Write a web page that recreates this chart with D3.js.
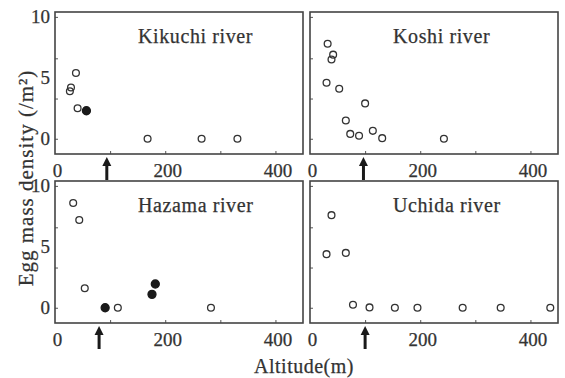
<!DOCTYPE html>
<html>
<head>
<meta charset="utf-8">
<title></title>
<style type="text/css">
  body {margin: 0; background: #fff}
  text {font-family: "Liberation Serif", "DejaVu Serif", serif; fill: #333; stroke: #333; stroke-width: 0.25px}
  .frame {fill: none; stroke: #444; stroke-width: 1.6px}
  .tick line {stroke: #555}
</style>
</head>
<body>
<script src="https://d3js.org/d3.v7.min.js"></script>
<div id="my_dataviz"></div>
<script>
// panel titles, in reading order
var rivers = ["Kikuchi river", "Koshi river", "Hazama river", "Uchida river"];

// altitude (m), egg mass density (/m2), filled = black dot
var kikuchiAlt = [27, 29, 38, 41, 57, 168, 266, 331];
var kikuchiDen = [3.9, 4.2, 5.4, 2.5, 2.3, 0, 0, 0];
var kikuchiFilled = [0, 0, 0, 0, 1, 0, 0, 0];

var koshiAlt = [32, 42, 39, 30, 53, 100, 65, 73, 89, 114, 131, 243];
var koshiDen = [7.8, 6.9, 6.5, 4.6, 4.1, 2.9, 1.5, 0.4, 0.25, 0.65, 0.05, 0];
var koshiFilled = [0, 0, 0, 0, 0, 0, 0, 0, 0, 0, 0, 0];

var hazamaAlt = [33, 44, 54, 91, 114, 176, 182, 283];
var hazamaDen = [8.6, 7.2, 1.6, 0, 0, 1.1, 1.95, 0];
var hazamaFilled = [0, 0, 0, 1, 0, 1, 1, 0];

var uchidaAlt = [39, 30, 65, 78, 108, 154, 195, 277, 346, 436];
var uchidaDen = [7.6, 4.4, 4.5, 0.25, 0.03, 0, 0, 0, 0, 0];
var uchidaFilled = [0, 0, 0, 0, 0, 0, 0, 0, 0, 0];

// arrow positions (altitude) under each panel
var arrowAlt = [94, 97, 80, 100];

var xLabels = [0, 200, 400];
var xMarks = [100, 200, 300, 400];
var yLabels = [0, 5, 10];
var yMarks = [0, 3.3, 6.6, 10];

var series = [
  {alt: kikuchiAlt, den: kikuchiDen, filled: kikuchiFilled},
  {alt: koshiAlt, den: koshiDen, filled: koshiFilled},
  {alt: hazamaAlt, den: hazamaDen, filled: hazamaFilled},
  {alt: uchidaAlt, den: uchidaDen, filled: uchidaFilled}
];

var W = 565, H = 378;
var panelLeft = [55, 310], panelTop = [12, 181];
var pw = 248, ph = 142;

var svg = d3.select("#my_dataviz")
  .append("svg")
    .attr("width", W)
    .attr("height", H);

var x = d3.scaleLinear().domain([0, 450]).range([0, pw]);
var y = d3.scaleLinear().domain([-1.25, 10.4]).range([ph, 0]);

rivers.forEach(function(name, i) {
  var col = i % 2, row = Math.floor(i / 2);
  var g = svg.append("g")
    .attr("transform", "translate(" + panelLeft[col] + "," + panelTop[row] + ")");
  drawPanel(g, name, series[i], arrowAlt[i], col == 0);
});

function drawPanel(g, name, s, arrow, showY)
{
  // tick marks (inside)
  g.append("g")
    .attr("transform", "translate(0," + ph + ")")
    .call(d3.axisBottom(x).tickValues(xMarks).tickSize(-3).tickFormat(""))
    .call(function(a) { a.select(".domain").remove(); });
  g.append("g")
    .call(d3.axisLeft(y).tickValues(yMarks).tickSize(-3).tickFormat(""))
    .call(function(a) { a.select(".domain").remove(); });
  // tick labels
  var xa = g.append("g")
    .attr("transform", "translate(2," + ph + ")")
    .call(d3.axisBottom(x).tickValues(xLabels).tickSize(0).tickPadding(9.5));
  xa.select(".domain").remove();
  xa.selectAll("text").attr("font-size", 19).attr("fill", "#333")
    .style("font-family", '"Liberation Serif", serif');
  if (showY) {
    var ya = g.append("g")
      .call(d3.axisLeft(y).tickValues(yLabels).tickSize(0).tickPadding(5));
    ya.select(".domain").remove();
    ya.selectAll("text").attr("font-size", 19).attr("fill", "#333")
      .style("font-family", '"Liberation Serif", serif');
  }
  // frame
  g.append("rect")
    .attr("class", "frame")
    .attr("x", 0).attr("y", 0)
    .attr("width", pw).attr("height", ph);
  // title
  g.append("text")
    .attr("x", 83)
    .attr("y", 31)
    .attr("font-size", 20)
    .attr("letter-spacing", 0.6)
    .text(name);
  // points
  var idx = d3.range(s.alt.length);
  g.append("g")
    .selectAll("circle")
    .data(idx)
    .enter()
    .append("circle")
      .attr("cx", function(d) { return x(s.alt[d]) })
      .attr("cy", function(d) { return y(s.den[d]) })
      .attr("r", function(d) { return s.filled[d] ? 4 : 3.4 })
      .attr("fill", function(d) { return s.filled[d] ? "#1a1a1a" : "none" })
      .attr("stroke", function(d) { return s.filled[d] ? "#1a1a1a" : "#333" })
      .attr("stroke-width", 1.3);
  // arrow below the axis
  var ax = x(arrow);
  g.append("line")
    .attr("x1", ax).attr("x2", ax)
    .attr("y1", ph + 9).attr("y2", ph + 26)
    .attr("stroke", "#1a1a1a")
    .attr("stroke-width", 3);
  g.append("path")
    .attr("d", d3.line()([[ax - 4.5, ph + 12], [ax, ph + 3], [ax + 4.5, ph + 12]]) + "Z")
    .attr("fill", "#1a1a1a");
}

// axis titles
svg.append("text")
  .attr("transform", "translate(33,178) rotate(-90)")
  .attr("text-anchor", "middle")
  .attr("font-size", 21)
  .attr("letter-spacing", 1)
  .text("Egg mass density (/m²)");
svg.append("text")
  .attr("x", 304)
  .attr("y", 373)
  .attr("text-anchor", "middle")
  .attr("font-size", 20)
  .attr("letter-spacing", 0.5)
  .text("Altitude(m)");
</script>
</body>
</html>
